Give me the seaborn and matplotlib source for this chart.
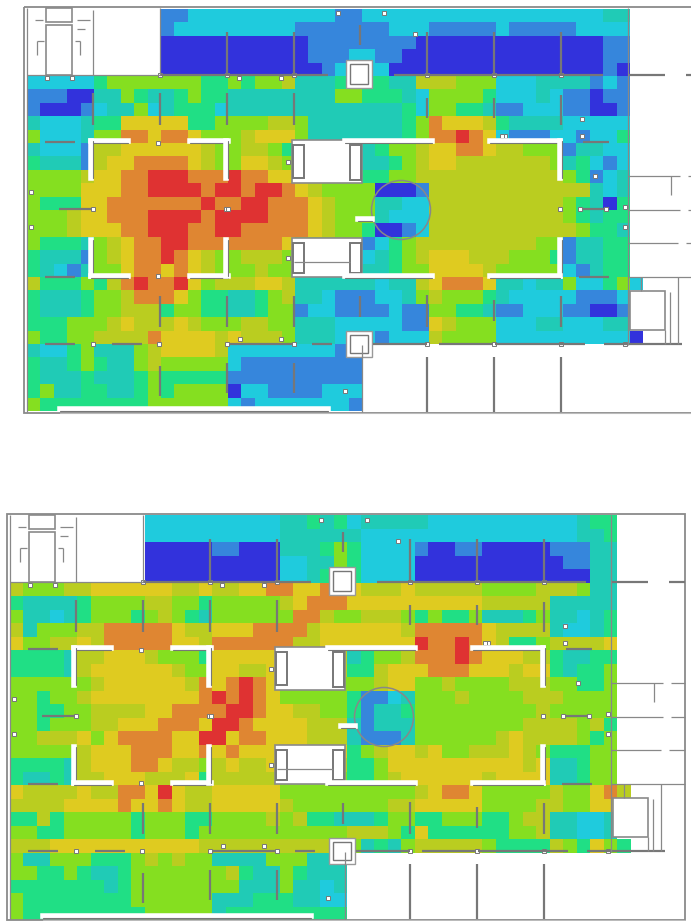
import numpy as np
import matplotlib
matplotlib.use("Agg")
import matplotlib.pyplot as plt
from matplotlib.colors import ListedColormap
from matplotlib.patches import Rectangle, Circle
import seaborn as sns

level_colors = ["#3232DC", "#3686DC", "#1FCBDD", "#20CBB6", "#20DF85",
                "#85DF20", "#BACD20", "#DFCB20", "#DF8632", "#DF3232"]

top_rows = [
"..... ..... 11222 22222 22211 22222 22222 22222 22233",
"..... ..... 12222 22222 11111 11222 11111 21111 12222",
"..... ..... 00000 00000 01111 11110 00000 00000 00011",
"..... ..... 00000 00000 01112 21100 00000 00000 00011",
"..... ..... 00000 00000 00122 22000 00000 00000 00010",
"22222 45555 55544 54556 33344 44336 66555 22233 33121",
"11100 33543 34544 33333 33355 44432 55554 22232 11011",
"10001 23352 34442 33333 33333 33342 55443 11222 11001",
"32223 44777 77445 55566 53333 33345 87776 43333 22222",
"52223 55887 88755 56777 53333 33345 88987 21112 21224",
"32221 66777 77765 56654 55555 34556 77887 66555 13322",
"43331 67788 88765 57765 55555 33456 77666 66665 34212",
"55556 77889 99888 98877 55555 44556 66666 66666 54123",
"55557 77889 99989 98998 76555 50001 66666 66666 66323",
"54447 78888 88898 89988 87655 53322 66666 66666 54304",
"55567 78889 99989 99988 87655 53222 66666 66666 54344",
"55567 77889 99889 98888 87655 40012 66666 66666 65443",
"54443 56788 99888 88887 55555 12456 66666 66655 13344",
"43331 56788 98765 56665 55555 23456 77766 65554 13344",
"43213 55788 78765 55655 55555 33455 77776 55555 21344",
"64445 46898 89756 66776 33333 32336 78887 33233 52245 2",
"43334 55688 87544 33456 33211 12235 65554 32222 21112",
"43334 55666 45544 33455 12211 11211 55443 11222 11001",
"44455 56766 67655 56655 33322 22211 76555 22233 22233",
"54455 66668 77776 76665 33322 21222 65555 22222 22222 0",
"32245 33356 77776 22222 22212 ..... ..... ..... .....",
"43345 43356 55555 21111 11111 ..... ..... ..... .....",
"43334 33345 44444 11111 11111 ..... ..... ..... .....",
"45334 43345 45555 02211 11222 ..... ..... ..... .....",
"54444 44445 55555 21222 22221 ..... ..... ..... .....",
]

bottom_rows = [
"..... ..... 22222 22222 33434 23333 32222 22222 22344",
"..... ..... 22222 22222 33333 32222 22222 22222 22334",
"..... ..... 00000 11000 33345 42222 10011 00000 11133",
"..... ..... 00000 00000 22335 42222 00000 00000 01133",
"..... ..... 00000 00000 22345 42222 00000 00000 00033",
"65556 67777 77667 66778 87787 76667 66666 55556 66533",
"43333 45555 66554 55555 67888 77777 77777 66666 33333",
"53323 45554 56543 55555 58865 56665 45445 33345 33234",
"63555 66888 88766 77788 88677 77776 88888 76666 32234",
"75566 76888 88776 88888 86677 77777 98898 76445 66667",
"44443 66777 65554 77777 66666 34556 88898 77766 43344",
"44443 67777 77655 77667 66666 44677 78887 77677 43445",
"55555 56777 77768 78987 55555 55677 55655 55666 55445",
"55455 67777 77778 98987 55555 41123 55565 55566 65555",
"55445 56666 77888 89987 76655 41334 55555 55556 55555",
"55455 56677 78887 99877 77666 31333 55555 55566 66564",
"55666 75788 88779 97887 77666 31113 55555 56766 66545",
"55555 67778 88778 78777 77777 45677 67556 66765 44455",
"44443 67778 87665 67667 66666 44577 77777 77767 33455",
"43343 66777 66674 66666 55555 44567 77777 67777 33455",
"76666 76688 79766 77777 55555 55555 67887 55555 65578 6",
"66667 77787 78766 77777 65555 55566 77777 55556 65577",
"44645 55554 55544 55556 56443 33455 44555 44566 33223",
"55445 55554 55545 55555 55555 66654 74444 44556 33223",
"66677 77777 77776 66666 66666 53435 66666 54444 65475 4",
"53355 54445 65655 33335 55333 ..... ..... ..... .....",
"55445 43345 55555 56433 54333 ..... ..... ..... .....",
"44444 44345 55555 55333 53323 ..... ..... ..... .....",
"54444 44445 55555 33344 43322 ..... ..... ..... .....",
"54444 44444 55555 34444 44444 ..... ..... ..... .....",
]

# floor plan, in pixel units of the upper plan
gray_walls = [
    (160,75,328,75),(394,75,603,75),(628,75,665,75),(686,75,702,75),
    (227,32,227,75),(294,32,294,75),(360,25,360,45),(427,32,427,75),(494,32,494,75),(561,32,561,75),
    (93,93,93,125),(160,93,160,125),(227,93,227,125),(294,93,294,125),(427,98,427,118),(494,98,494,118),(561,95,561,125),
    (45,142,75,142),(583,142,609,142),(59,209,92,209),(583,209,605,209),(45,277,75,277),(579,277,609,277),
    (160,296,160,327),(227,296,227,327),(294,296,294,327),(360,296,360,317),(427,295,427,327),(494,300,494,321),(561,296,561,327),
    (45,344,75,344),(112,344,142,344),(230,344,292,344),(312,344,332,344),(373,344,427,344),(439,344,492,344),(495,344,585,344),(604,344,682,344),
    (160,366,160,396),(227,363,227,393),(294,363,294,393),
    (427,357,427,412),(494,357,494,412),(561,357,561,412),
]
thin_walls = [
    (628,8,628,345),(362,345,362,412),(93,10,93,75),(160,8,160,75),(27,75,160,75),(27,8,27,412),
    (628,176,680,176),(671,176,671,195),(688,176,702,176),(628,210,680,210),(688,210,702,210),
    (628,243,678,243),(686,243,702,243),(628,277,702,277),(641,277,641,291),(665,330,665,344),(670,292,670,344),(678,277,678,344),
    (37,41,37,55),(37,41,44,41),(80,41,75,41),(80,41,80,55),(35,20,43,20),(77,20,90,20),(77,29,85,29),
    (294,262,350,262),
]
white_walls = [
    (91,141,128,141),(91,141,91,178),(190,141,228,141),(226,141,226,178),
    (91,240,91,276),(91,276,128,276),(190,276,228,276),(226,240,226,276),
    (345,141,432,141),(490,141,560,141),(560,141,560,178),(560,240,560,276),(490,276,560,276),(345,276,432,276),
    (358,219,372,219),(60,409,328,409),
]
plan_boxes = [
    (46,8,26,14),(46,25,26,50),(292,140,70,43),(292,238,70,39),(630,291,35,39),
]
inner_boxes = [(293,145,11,33),(293,243,11,30),(350,145,11,35),(350,243,11,30)]
pillars = [(346,60,26,28),(346,331,26,26)]
junctions = [(47,78),(72,78),(239,78),(281,78),(338,13),(384,13),(415,34),(505,136),(582,119),(595,176),(606,209),(625,207),
             (31,192),(93,209),(158,143),(158,276),(226,209),(228,209),(288,162),(288,258),(360,276),(560,209),(580,209),
             (93,344),(159,344),(227,344),(240,339),(281,339),(294,344),(427,344),(494,344),(561,344),(31,227),(345,391),
             (502,136),(582,136),(625,227),(625,344),(160,75),(227,75),(294,75),(427,75),(494,75),(561,75)]

W, H = 691, 921
sns.set_theme(style="white")
fig = plt.figure(figsize=(W/100, H/100), dpi=100, facecolor="white")
cmap = ListedColormap(level_colors)


def parse(rows):
    n = max(len(r.replace(" ", "")) for r in rows)
    grid = np.full((len(rows), n), np.nan)
    for j, r in enumerate(rows):
        for i, ch in enumerate(r.replace(" ", "")):
            if ch != ".":
                grid[j, i] = int(ch)
    return grid


def panel(rows, x0, y0, cell):
    grid = parse(rows)
    h, w = grid.shape
    ax = fig.add_axes([x0/W, 1-(y0+h*cell)/H, w*cell/W, h*cell/H])
    sns.heatmap(grid, ax=ax, cmap=cmap, vmin=-0.5, vmax=9.5, cbar=False,
                xticklabels=False, yticklabels=False, square=False, linewidths=0)
    ax.set_axis_off()


panel(top_rows, 27, 9, 13.4)
panel(bottom_rows, 9.5, 515, 13.5)

ov = fig.add_axes([0, 0, 1, 1])
ov.set_xlim(0, W)
ov.set_ylim(H, 0)
ov.set_axis_off()
ov.patch.set_alpha(0)
GRAY = "#777777"


def draw_plan(dx, dy):
    ov.add_patch(Rectangle((24+dx, 7+dy), 678, 406, fill=False, ec="#8a8a8a", lw=1.3))
    ov.plot([60+dx, 702+dx], [413+dy, 413+dy], color="#bbbbbb", lw=0.8)
    for x0, y0, x1, y1 in white_walls:
        ov.plot([x0+dx, x1+dx], [y0+dy, y1+dy], color="white", lw=4, solid_capstyle="projecting")
        off = (2, 0) if x0 == x1 else (0, 2)
        ov.plot([x0+dx+off[0], x1+dx+off[0]], [y0+dy+off[1], y1+dy+off[1]], color=GRAY, lw=0.8)
    for b in plan_boxes:
        ov.add_patch(Rectangle((b[0]+dx, b[1]+dy), b[2], b[3], fc="white", ec="#8a8a8a", lw=1.2))
    for b in inner_boxes:
        ov.add_patch(Rectangle((b[0]+dx, b[1]+dy), b[2], b[3], fc="white", ec="#777777", lw=1.4))
    for b in pillars:
        ov.add_patch(Rectangle((b[0]+dx, b[1]+dy), b[2], b[3], fc="white", ec="#999999", lw=1))
        ov.add_patch(Rectangle((b[0]+4+dx, b[1]+4+dy), b[2]-8, b[3]-8, fc="white", ec="#777777", lw=1))
    for x0, y0, x1, y1 in gray_walls:
        ov.plot([x0+dx, x1+dx], [y0+dy, y1+dy], color=GRAY, lw=1.6, solid_capstyle="butt")
    for x0, y0, x1, y1 in thin_walls:
        ov.plot([x0+dx, x1+dx], [y0+dy, y1+dy], color="#888888", lw=0.9, solid_capstyle="butt")
    ov.add_patch(Circle((401+dx, 210+dy), 29.5, fill=False, ec="#888888", lw=1.1))
    for x, y in junctions:
        ov.add_patch(Rectangle((x-2+dx, y-2+dy), 4, 4, fc="white", ec="#777777", lw=0.7))


draw_plan(0, 0)
draw_plan(-17, 507)
fig.savefig("out.png", dpi=100, facecolor="white")
